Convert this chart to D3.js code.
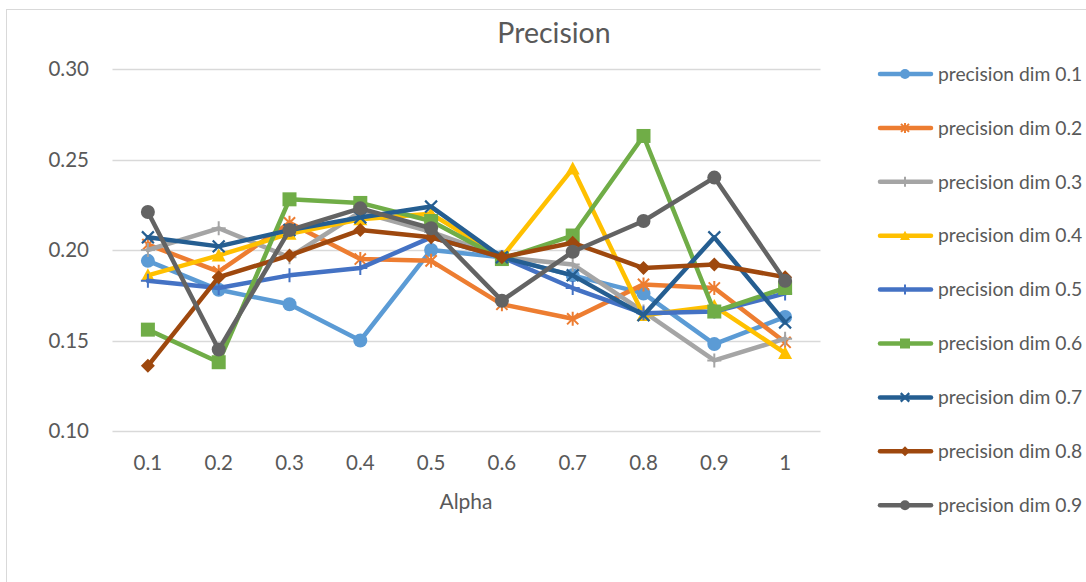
<!DOCTYPE html>
<html>
<head>
<meta charset="utf-8">
<script src="https://cdn.jsdelivr.net/npm/d3@7/dist/d3.min.js"></script>
<style>
  html, body { margin: 0; padding: 0; background: #fff; }
  svg { display: block; }
  text { font-family: Lato, "Open Sans", sans-serif; fill: #595959; }
</style>
</head>
<body>
<svg id="chart" width="1086" height="582"></svg>
<script>
// Alpha values along the x axis
const alphaLabels = ["0.1", "0.2", "0.3", "0.4", "0.5", "0.6", "0.7", "0.8", "0.9", "1"];

// Precision per alpha, one array per dimension setting
const dim01 = [0.194, 0.178, 0.170, 0.150, 0.200, 0.196, 0.186, 0.176, 0.148, 0.163];
const dim02 = [0.203, 0.188, 0.215, 0.195, 0.194, 0.170, 0.162, 0.181, 0.179, 0.149];
const dim03 = [0.200, 0.212, 0.196, 0.221, 0.210, 0.196, 0.192, 0.166, 0.139, 0.151];
const dim04 = [0.186, 0.197, 0.209, 0.217, 0.220, 0.196, 0.245, 0.164, 0.169, 0.143];
const dim05 = [0.183, 0.179, 0.186, 0.190, 0.207, 0.196, 0.179, 0.165, 0.166, 0.176];
const dim06 = [0.156, 0.138, 0.228, 0.226, 0.216, 0.195, 0.208, 0.263, 0.166, 0.179];
const dim07 = [0.207, 0.202, 0.211, 0.218, 0.224, 0.196, 0.186, 0.164, 0.207, 0.160];
const dim08 = [0.136, 0.185, 0.197, 0.211, 0.207, 0.196, 0.204, 0.190, 0.192, 0.185];
const dim09 = [0.221, 0.145, 0.211, 0.223, 0.212, 0.172, 0.199, 0.216, 0.240, 0.183];

const seriesNames = ["precision dim 0.1", "precision dim 0.2", "precision dim 0.3",
  "precision dim 0.4", "precision dim 0.5", "precision dim 0.6",
  "precision dim 0.7", "precision dim 0.8", "precision dim 0.9"];
const seriesValues = [dim01, dim02, dim03, dim04, dim05, dim06, dim07, dim08, dim09];
const seriesColors = ["#5B9BD5", "#ED7D31", "#A5A5A5", "#FFC000", "#4472C4",
  "#70AD47", "#255E91", "#9E480E", "#636363"];
const seriesMarkers = ["circle", "asterisk", "plus", "triangle", "plus",
  "square", "cross", "diamond", "circle"];

const yTicks = [0.10, 0.15, 0.20, 0.25, 0.30];

const svg = d3.select("#chart");

// Chart frame
svg.append("rect")
  .attr("x", 6.5).attr("y", 9.5)
  .attr("width", 1200).attr("height", 800)
  .attr("fill", "none").attr("stroke", "#d9d9d9").attr("stroke-width", 1);

const plot = { left: 112.5, right: 820.5, top: 69, bottom: 431 };

const x = d3.scaleBand().domain(alphaLabels).range([plot.left, plot.right]);
const y = d3.scaleLinear().domain([0.10, 0.30]).range([plot.bottom, plot.top]);
const cx = d => x(d) + x.bandwidth() / 2;

// Horizontal gridlines
svg.append("g")
  .selectAll("line").data(yTicks).join("line")
  .attr("x1", plot.left).attr("x2", plot.right)
  .attr("y1", d => Math.round(y(d)) + 0.5).attr("y2", d => Math.round(y(d)) + 0.5)
  .attr("stroke", "#d9d9d9").attr("stroke-width", 1.3);

// Y axis labels
const yAxis = d3.axisLeft(y).tickValues(yTicks).tickFormat(d3.format(".2f")).tickSize(0).tickPadding(0);
const gy = svg.append("g").attr("transform", "translate(89,0)").call(yAxis);
gy.select(".domain").remove();
gy.selectAll("text").attr("font-size", 20.5).attr("fill", "#595959")
  .style("font-family", "Lato, 'Open Sans', sans-serif");

// X axis labels
const xAxis = d3.axisBottom(x).tickSize(0).tickPadding(0);
const gx = svg.append("g").attr("transform", "translate(0,455)").call(xAxis);
gx.select(".domain").remove();
gx.selectAll("text").attr("font-size", 20.5).attr("fill", "#595959")
  .style("font-family", "Lato, 'Open Sans', sans-serif");

// Title and axis title
svg.append("text").attr("x", 554).attr("y", 43).attr("text-anchor", "middle")
  .attr("font-size", 28.5).text("Precision");
svg.append("text").attr("x", 466).attr("y", 509).attr("text-anchor", "middle")
  .attr("font-size", 21).text("Alpha");

// Marker drawing helper
function drawMarker(g, type, color, s) {
  const h = s / 2;
  if (type === "circle") {
    g.append("circle").attr("r", h).attr("fill", color);
  } else if (type === "square") {
    g.append("rect").attr("x", -h).attr("y", -h).attr("width", s).attr("height", s).attr("fill", color);
  } else if (type === "triangle") {
    g.append("path").attr("d", `M0,${-h}L${h},${h * 0.85}L${-h},${h * 0.85}Z`).attr("fill", color);
  } else if (type === "diamond") {
    g.append("path").attr("d", `M0,${-h}L${h},0L0,${h}L${-h},0Z`).attr("fill", color);
  } else if (type === "plus") {
    g.append("path").attr("d", `M${-h},0L${h},0M0,${-h}L0,${h}`)
      .attr("stroke", color).attr("stroke-width", 2).attr("fill", "none");
  } else if (type === "cross") {
    const k = h * 0.85;
    g.append("path").attr("d", `M${-k},${-k}L${k},${k}M${k},${-k}L${-k},${k}`)
      .attr("stroke", color).attr("stroke-width", 2.2).attr("fill", "none");
  } else if (type === "asterisk") {
    const k = h * 0.8;
    g.append("path").attr("d", `M${-k},${-k}L${k},${k}M${k},${-k}L${-k},${k}M0,${-h}L0,${h}`)
      .attr("stroke", color).attr("stroke-width", 2).attr("fill", "none");
  }
}

// Series lines and markers
const line = d3.line().x((d, i) => cx(alphaLabels[i])).y(d => y(d));
seriesValues.forEach((vals, si) => {
  const g = svg.append("g");
  g.append("path").datum(vals).attr("d", line)
    .attr("fill", "none").attr("stroke", seriesColors[si])
    .attr("stroke-width", 4.5).attr("stroke-linejoin", "round").attr("stroke-linecap", "round");
  vals.forEach((v, i) => {
    const m = g.append("g").attr("transform", `translate(${cx(alphaLabels[i])},${y(v)})`);
    drawMarker(m, seriesMarkers[si], seriesColors[si], 14);
  });
});

// Legend
const legend = svg.append("g");
seriesNames.forEach((name, i) => {
  const ly = 74 + i * 53.9;
  const g = legend.append("g").attr("transform", `translate(0,${ly})`);
  g.append("line").attr("x1", 880).attr("x2", 931).attr("y1", 0).attr("y2", 0)
    .attr("stroke", seriesColors[i]).attr("stroke-width", 4.5).attr("stroke-linecap", "round");
  const m = g.append("g").attr("transform", "translate(905,0)");
  drawMarker(m, seriesMarkers[i], seriesColors[i], 10);
  g.append("text").attr("x", 938).attr("y", 0).attr("dy", "0.35em")
    .attr("font-size", 19.3).text(name);
});
</script>
</body>
</html>
